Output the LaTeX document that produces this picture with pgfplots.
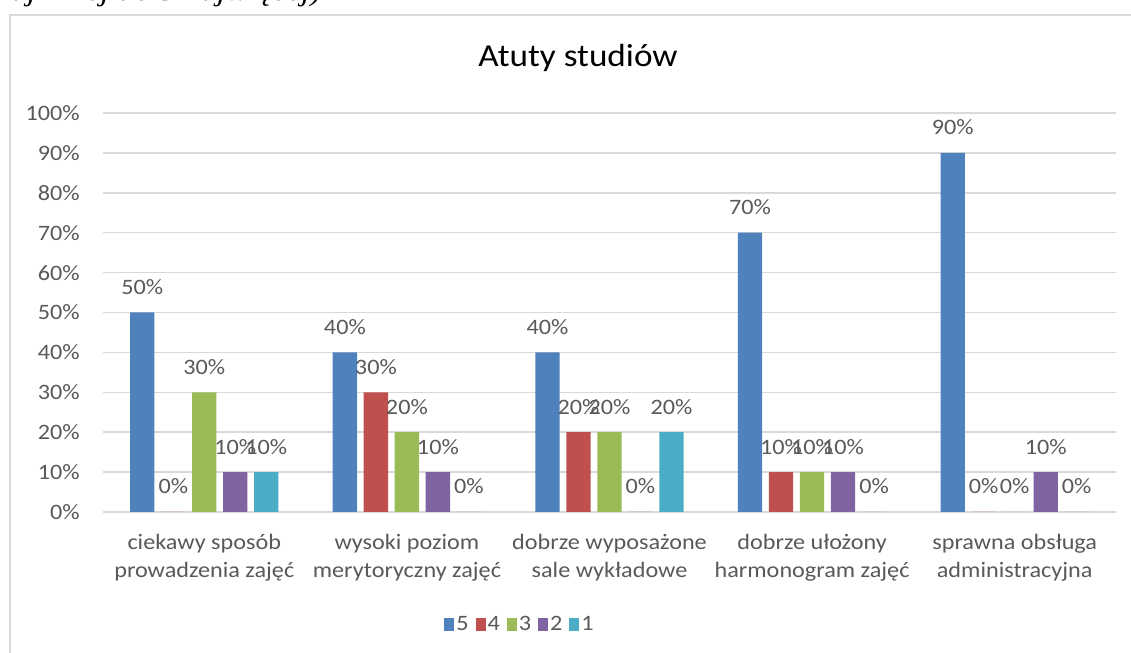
\documentclass[border=0pt]{standalone}
\usepackage{pgfplots}
\pgfplotsset{compat=1.18}
\usepackage{fontspec}
\setmainfont{Carlito}[FakeStretch=1.1]
\newfontfamily\serifit{Liberation Serif}[FakeStretch=1.1]
\definecolor{c5}{HTML}{4F81BD}
\definecolor{c4}{HTML}{C0504D}
\definecolor{c3}{HTML}{9BBB59}
\definecolor{c2}{HTML}{8064A2}
\definecolor{c1}{HTML}{4BACC6}
\definecolor{txt}{HTML}{595959}
\definecolor{gridc}{HTML}{D9D9D9}
\pgfplotsset{/pgf/number format/assume math mode=true}
\begin{document}
\begin{tikzpicture}
\path[use as bounding box] (0pt,0pt) rectangle (565.5pt,326.5pt);
\clip (0pt,0pt) rectangle (565.5pt,326.5pt);
\node[anchor=base east, font=\serifit\itshape\fontsize{15}{17}\selectfont, inner sep=0pt] at (161pt,326pt) {najmniej do 5 najwięcej)};
\draw[gridc, line width=0.9pt] (5pt,319pt) rectangle (600pt,-10pt);
\node[anchor=base, font=\fontsize{16}{18}\selectfont, text=black, inner sep=0pt] at (289pt,293pt) {Atuty studiów};
\begin{axis}[
  at={(51.5pt,70.5pt)}, anchor=south west,
  scale only axis, width=506.5pt, height=199.5pt,
  xmin=-0.5, xmax=4.5, ymin=0, ymax=100,
  ybar=3.35pt, bar width=12.15pt,
  axis line style={draw=none},
  major tick length=0pt,
  ymajorgrids, grid style={gridc, line width=0.75pt},
  ytick={0,10,20,30,40,50,60,70,80,90,100},
  yticklabels={0\%,10\%,20\%,30\%,40\%,50\%,60\%,70\%,80\%,90\%,100\%},
  yticklabel style={anchor=east, inner sep=0pt, xshift=-11.5pt, font=\fontsize{11}{13}\selectfont, text=txt},
  xtick={0,1,2,3,4},
  xticklabels={{ciekawy sposób\\prowadzenia zajęć},{wysoki poziom\\merytoryczny zajęć},{dobrze wyposażone\\sale wykładowe},{dobrze ułożony\\harmonogram zajęć},{sprawna obsługa\\administracyjna}},
  xticklabel style={align=center, anchor=north, inner sep=0pt, yshift=-11pt, font=\fontsize{11}{14}\selectfont, text=txt},
  nodes near coords={\pgfmathprintnumber{\pgfplotspointmeta}\%},
  nodes near coords style={anchor=base, yshift=9pt, inner sep=0pt, font=\fontsize{11}{13}\selectfont, text=txt},
  legend image code/.code={\fill[#1] (0pt,-3.25pt) rectangle (5pt,3.25pt);},
  legend style={at={(0.4116,-0.283)}, anchor=center, legend columns=-1, draw=none, fill=none,
    font=\fontsize{11}{13}\selectfont, text=txt, nodes={inner sep=1pt},
    /tikz/every even column/.append style={column sep=2.5pt}},
]
\addplot[fill=c5, draw=none] coordinates {(0,50) (1,40) (2,40) (3,70) (4,90)};
\addplot[fill=c4, draw=none] coordinates {(0,0) (1,30) (2,20) (3,10) (4,0)};
\addplot[fill=c3, draw=none] coordinates {(0,30) (1,20) (2,20) (3,10) (4,0)};
\addplot[fill=c2, draw=none] coordinates {(0,10) (1,10) (2,0) (3,10) (4,10)};
\addplot[fill=c1, draw=none] coordinates {(0,10) (1,0) (2,20) (3,0) (4,0)};
\legend{5,4,3,2,1}
\end{axis}
\end{tikzpicture}
\end{document}
